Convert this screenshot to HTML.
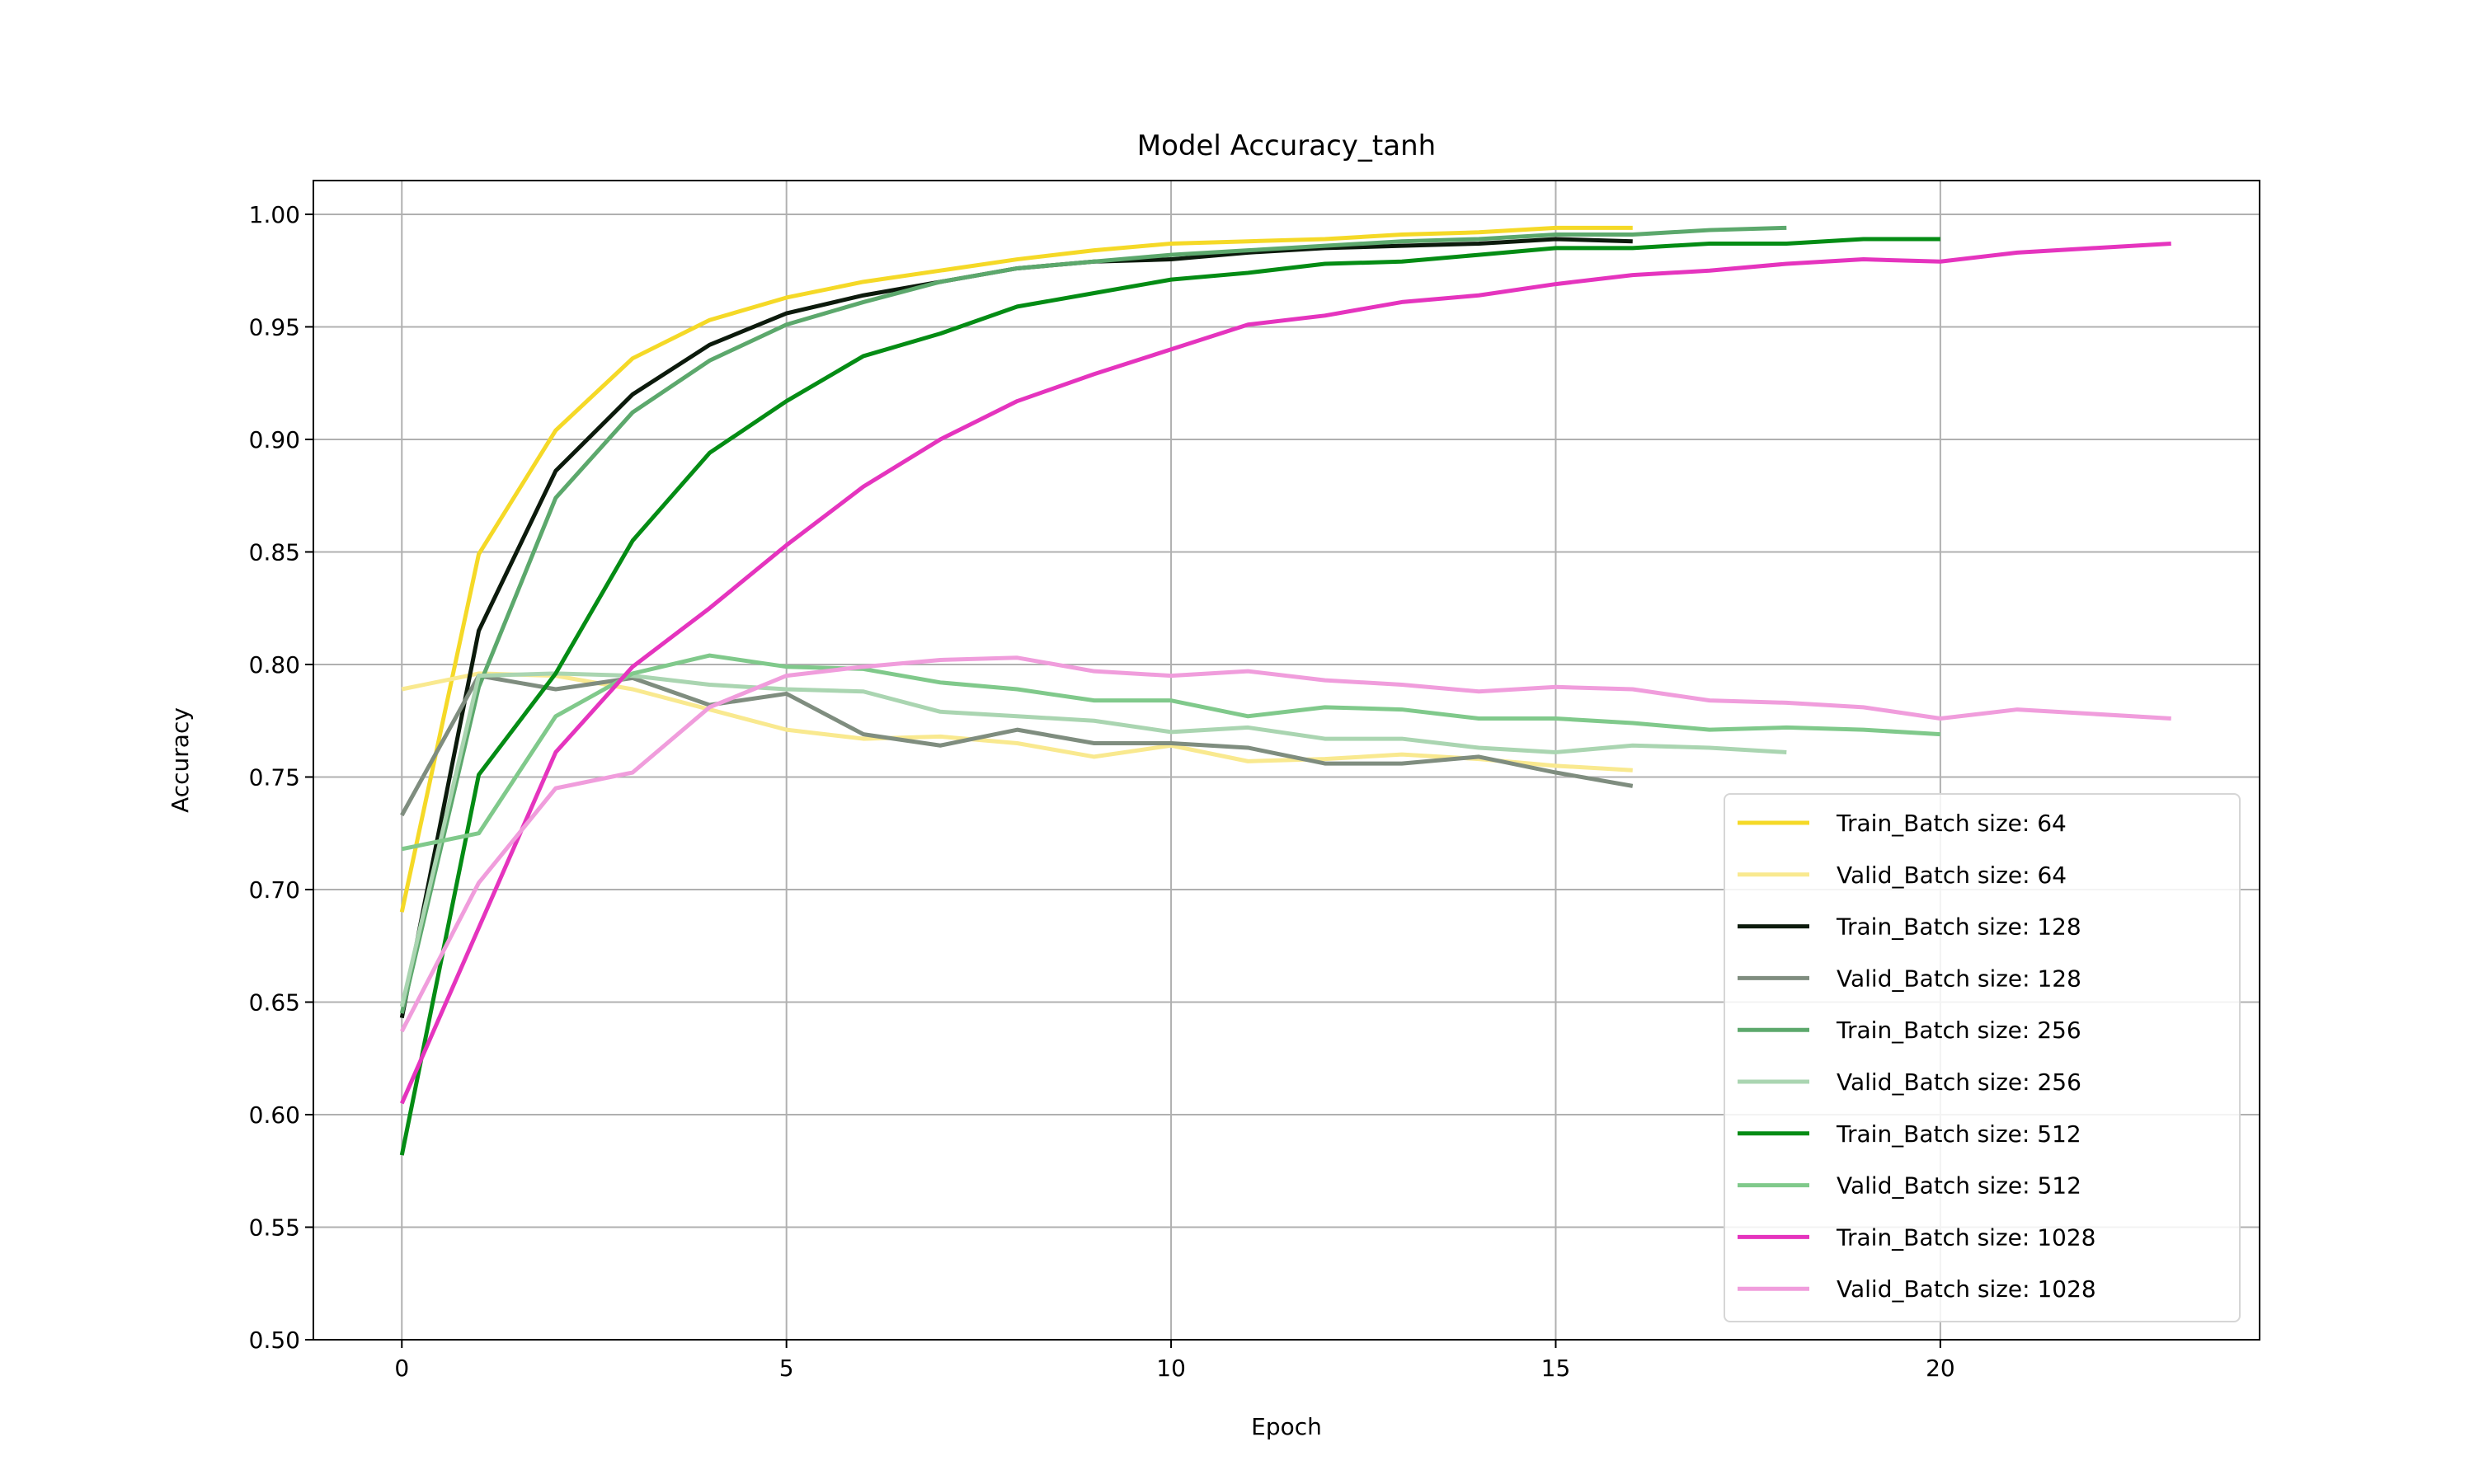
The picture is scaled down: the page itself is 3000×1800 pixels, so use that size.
<!DOCTYPE html>
<html><head><meta charset="utf-8"><style>
html,body{margin:0;padding:0;background:#fff}
svg{display:block;font-family:"DejaVu Sans","Liberation Sans",sans-serif}
</style></head><body>
<svg id="chart" width="3000" height="1800" viewBox="0 0 3000 1800" xmlns="http://www.w3.org/2000/svg">
<rect width="3000" height="1800" fill="#fff"/>
<text x="1560" y="188" font-size="34" text-anchor="middle" fill="#000">Model Accuracy_tanh</text>
<g id="grid"></g>
<g id="series"></g>
<rect x="380" y="219" width="2360" height="1406" fill="none" stroke="#000" stroke-width="2"/>
<g id="ticks"></g>
<text x="1560" y="1740" font-size="28" text-anchor="middle">Epoch</text>
<text transform="translate(228,922) rotate(-90)" font-size="28" text-anchor="middle">Accuracy</text>
<g id="legend"></g>
</svg>
<script>
const xTicks=[0,5,10,15,20];
const yTicks=[0.50,0.55,0.60,0.65,0.70,0.75,0.80,0.85,0.90,0.95,1.00];
const seriesNames=["Train_Batch size: 64","Valid_Batch size: 64","Train_Batch size: 128","Valid_Batch size: 128","Train_Batch size: 256","Valid_Batch size: 256","Train_Batch size: 512","Valid_Batch size: 512","Train_Batch size: 1028","Valid_Batch size: 1028"];
const train64=[0.69,0.849,0.904,0.936,0.953,0.963,0.970,0.975,0.980,0.984,0.987,0.988,0.989,0.991,0.992,0.994,0.994];
const valid64=[0.789,0.796,0.795,0.789,0.780,0.771,0.767,0.768,0.765,0.759,0.764,0.757,0.758,0.760,0.758,0.755,0.753];
const train128=[0.643,0.815,0.886,0.920,0.942,0.956,0.964,0.970,0.976,0.979,0.980,0.983,0.985,0.986,0.987,0.989,0.988];
const valid128=[0.733,0.795,0.789,0.794,0.782,0.787,0.769,0.764,0.771,0.765,0.765,0.763,0.756,0.756,0.759,0.752,0.746];
const train256=[0.645,0.790,0.874,0.912,0.935,0.951,0.961,0.970,0.976,0.979,0.982,0.984,0.986,0.988,0.989,0.991,0.991,0.993,0.994];
const valid256=[0.648,0.795,0.796,0.795,0.791,0.789,0.788,0.779,0.777,0.775,0.770,0.772,0.767,0.767,0.763,0.761,0.764,0.763,0.761];
const train512=[0.582,0.751,0.796,0.855,0.894,0.917,0.937,0.947,0.959,0.965,0.971,0.974,0.978,0.979,0.982,0.985,0.985,0.987,0.987,0.989,0.989];
const valid512=[0.718,0.725,0.777,0.796,0.804,0.799,0.798,0.792,0.789,0.784,0.784,0.777,0.781,0.780,0.776,0.776,0.774,0.771,0.772,0.771,0.769];
const train1028=[0.605,0.683,0.761,0.799,0.825,0.853,0.879,0.900,0.917,0.929,0.940,0.951,0.955,0.961,0.964,0.969,0.973,0.975,0.978,0.980,0.979,0.983,0.985,0.987];
const valid1028=[0.637,0.703,0.745,0.752,0.781,0.795,0.799,0.802,0.803,0.797,0.795,0.797,0.793,0.791,0.788,0.790,0.789,0.784,0.783,0.781,0.776,0.780,0.778,0.776];
const allSeries=[train64,valid64,train128,valid128,train256,valid256,train512,valid512,train1028,valid1028];
const colors=["#f5d927","#f9e98f","#0c1a0c","#7f8d7f","#5ca86c","#aad5b1","#048c14","#80c98b","#e534be","#f09ddc"];
const NS="http://www.w3.org/2000/svg";
const L=380,R=2740,T=219,B=1625,X0=-1.15,X1=24.15,Y0=0.5,Y1=1.015;
const xs=v=>L+(v-X0)/(X1-X0)*(R-L);
const ys=v=>B-(v-Y0)/(Y1-Y0)*(B-T);
function mk(tag,attrs,parent){const e=document.createElementNS(NS,tag);for(const k in attrs)e.setAttribute(k,attrs[k]);parent.appendChild(e);return e;}
const grid=document.getElementById('grid'),ticks=document.getElementById('ticks');
xTicks.forEach(t=>{
 const g=mk('line',{x1:xs(t),x2:xs(t),y1:T,y2:B,stroke:'#b0b0b0','stroke-width':2},grid);
 
 
 const tk=mk('line',{x1:xs(t),x2:xs(t),y1:B,y2:B+10,stroke:'#000','stroke-width':2},ticks);
 
 
 const tx=mk('text',{x:xs(t),y:B+44,'font-size':28,'text-anchor':'middle'},ticks);
 tx.textContent=t;
 
 
});
yTicks.forEach(t=>{
 const g=mk('line',{x1:L,x2:R,y1:ys(t),y2:ys(t),stroke:'#b0b0b0','stroke-width':2},grid);
 
 
 const tk=mk('line',{x1:L-10,x2:L,y1:ys(t),y2:ys(t),stroke:'#000','stroke-width':2},ticks);
 
 
 const tx=mk('text',{x:L-16,y:ys(t)+10,'font-size':28,'text-anchor':'end'},ticks);
 tx.textContent=t.toFixed(2);
 
 
});
const sg=document.getElementById('series');
allSeries.forEach((d,i)=>{
 const p=mk('polyline',{points:d.map((v,j)=>xs(j)+','+ys(v)).join(' '),fill:'none',stroke:colors[i],'stroke-width':5,'stroke-linejoin':'round'},sg);
 
 
});
const lg=document.getElementById('legend');
const box=mk('rect',{x:2091,y:963,width:625,height:640,rx:7,fill:'#fff','fill-opacity':0.85,stroke:'#d6d6d6','stroke-width':2},lg);


seriesNames.forEach((n,i)=>{
 const y=998+i*62.8;
 const ln=mk('line',{x1:2107,x2:2194,y1:y,y2:y,stroke:colors[i],'stroke-width':5},lg);
 
 
 const tx=mk('text',{x:2227,y:y+10,'font-size':28},lg);
 tx.textContent=n;
 
 
});
</script>
</body></html>
